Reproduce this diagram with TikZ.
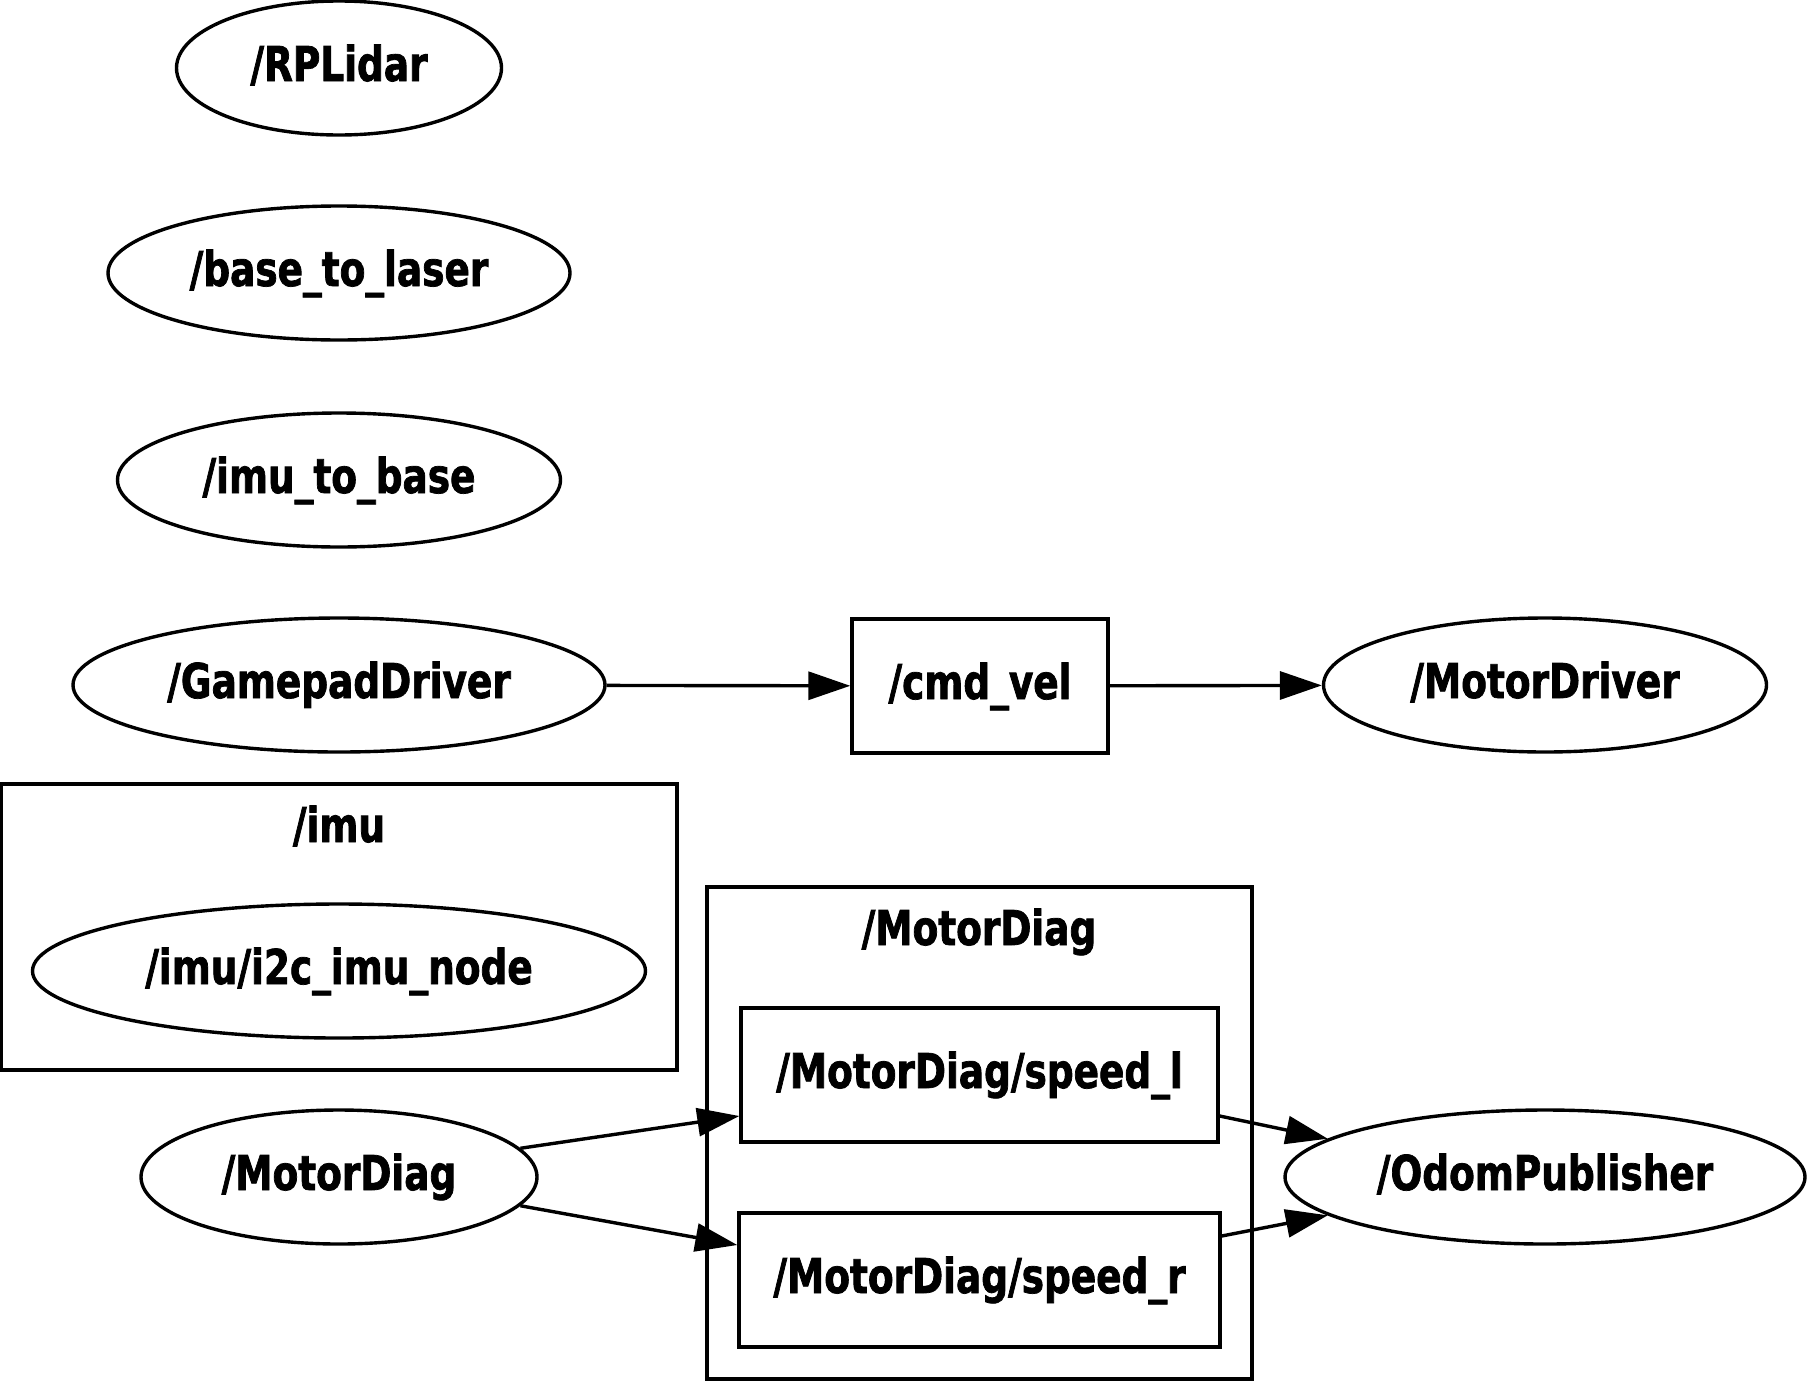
\documentclass[tikz,border=0pt]{standalone}
\usepackage{fontspec}
\setmainfont{DejaVu Sans}[FakeStretch=0.78, BoldFeatures={FakeBold=1.5}]
\usetikzlibrary{shapes.geometric,arrows.meta,calc}
\begin{document}
\begin{tikzpicture}[x=0.5pt,y=-0.5pt,
  every node/.style={font=\fontsize{24}{28}\selectfont\bfseries, inner sep=0pt, line width=1.7pt, text height=1.3em, text depth=0pt},
  ell/.style={draw, ellipse, minimum height=67pt},
  box/.style={draw, rectangle, minimum height=67pt},
  cluster/.style={draw, line width=1.7pt},
  edge/.style={line width=1.7pt, -{Triangle[length=21pt,width=14pt]}}
]
\useasboundingbox (0,0) rectangle (1808,1381);

\node[ell, minimum width=162.5pt] (rplidar) at (339,68) {/RPLidar};
\node[ell, minimum width=231pt] (b2l) at (339,273) {/base\_to\_laser};
\node[ell, minimum width=221.5pt] (i2b) at (339,480) {/imu\_to\_base};
\node[ell, minimum width=266pt] (gamepad) at (339,685) {/GamepadDriver};
\node[box, minimum width=128pt] (cmdvel) at (980,686) {/cmd\_vel};
\node[ell, minimum width=221.5pt] (motordriver) at (1545,685) {/MotorDriver};

\draw[cluster] (1,784) rectangle (677,1070);
\node (imulabel) at (339,829) {/imu};
\node[ell, minimum width=306.5pt] (i2c) at (339,971) {/imu/i2c\_imu\_node};

\draw[cluster] (707,887) rectangle (1252,1379);
\node (mdlabel) at (979,932) {/MotorDiag};
\node[box, minimum width=238.5pt] (sl) at (979.5,1075) {/MotorDiag/speed\_l};
\node[box, minimum width=240.5pt] (sr) at (979.5,1280) {/MotorDiag/speed\_r};

\node[ell, minimum width=198pt] (md) at (339,1177) {/MotorDiag};
\node[ell, minimum width=260pt] (odom) at (1545,1177) {/OdomPublisher};

\draw[edge] (gamepad) -- (cmdvel);
\draw[edge] (cmdvel) -- (motordriver);
\draw[edge] (md.9) -- ($(sl.west)+(0,41)$);
\draw[edge] (md.-9) -- ($(sr.west)+(0,-35)$);
\draw[edge] ($(sl.east)+(0,41)$) -- (odom.170);
\draw[edge] ($(sr.east)+(0,-44)$) -- (odom.190);
\end{tikzpicture}
\end{document}
